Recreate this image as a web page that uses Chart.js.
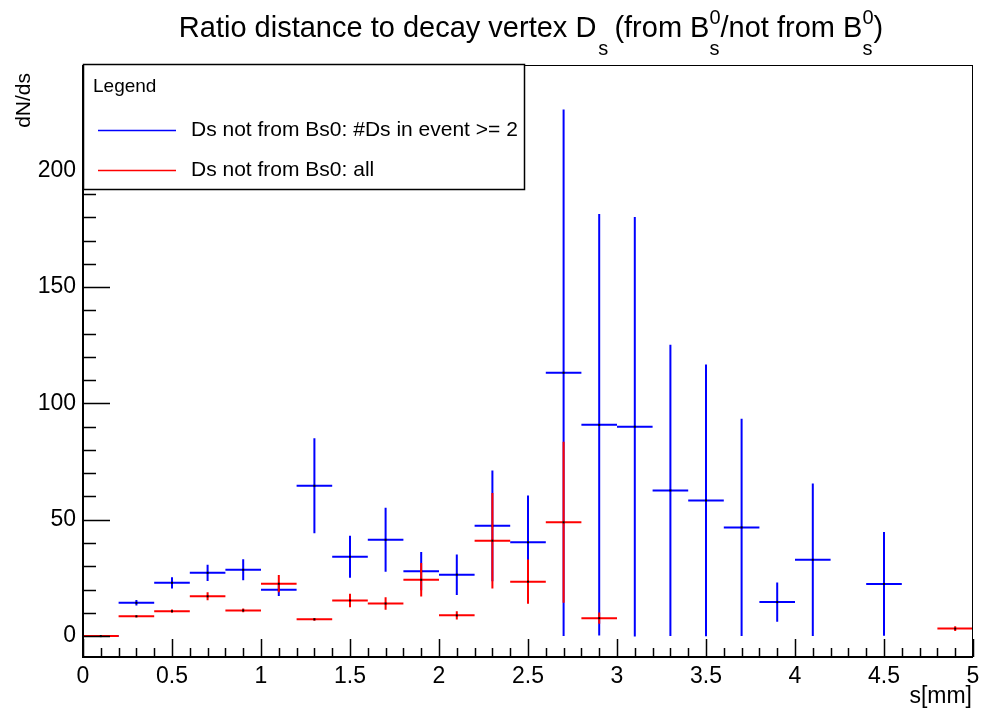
<!DOCTYPE html>
<html>
<head>
<meta charset="utf-8">
<script src="https://cdn.jsdelivr.net/npm/chart.js@4.4.0/dist/chart.umd.min.js"></script>
<style>
html, body { margin: 0; padding: 0; background: #fff; }
#grafica { display: block; }
</style>
</head>
<body>
<canvas id="grafica" width="981" height="713"></canvas>
<script>
// bins de 0.2 mm (centros)
const binCenters = [0.1, 0.3, 0.5, 0.7, 0.9, 1.1, 1.3, 1.5, 1.7, 1.9, 2.1, 2.3, 2.5,
                    2.7, 2.9, 3.1, 3.3, 3.5, 3.7, 3.9, 4.1, 4.3, 4.5, 4.7, 4.9];
const binWidth = 0.2;

// Ds not from Bs0: #Ds in event >= 2  (null = bin vacio)
const blueValues = [0, 14.3, 22.9, 27.2, 28.5, 19.9, 64.6, 34.1, 41.4, 27.9, 26.4, 47.4, 40.3,
                    113.2, 90.8, 90.0, 62.6, 58.3, 46.7, 14.6, 32.8, null, 22.4, null, null];
const blueErrors = [0, 1.2, 2.4, 3.5, 4.5, 2.7, 20.4, 9.0, 13.8, 8.2, 8.7, 23.8, 20.1,
                    113.2, 90.6, 90.2, 62.6, 58.4, 46.7, 8.4, 32.8, 0, 22.3, 0, 0];

// Ds not from Bs0: all
const redValues = [0, 8.5, 10.7, 17.1, 11.0, 22.5, 7.2, 15.3, 14.0, 24.2, 8.9, 41.0, 23.4,
                   48.9, 7.7, null, null, null, null, null, null, null, null, null, 3.2];
const redErrors = [0, 0.5, 0.7, 1.7, 0.8, 3.7, 0.6, 2.9, 2.7, 7.2, 1.8, 20.5, 9.5,
                   34.6, 2.4, 0, 0, 0, 0, 0, 0, 0, 0, 0, 1.0];

const xTickValues = [0, 0.5, 1, 1.5, 2, 2.5, 3, 3.5, 4, 4.5, 5];
const xTickLabels = ['0', '0.5', '1', '1.5', '2', '2.5', '3', '3.5', '4', '4.5', '5'];
const yTickValues = [0, 50, 100, 150, 200];
const yTickLabels = ['0', '50', '100', '150', '200'];

const FUENTE = '"Liberation Sans", Arial, Helvetica, sans-serif';

function construirPuntos(valores, errores) {
    return binCenters.map((x, i) => ({ x: x, y: valores[i], err: errores[i] }))
                     .filter(p => p.y !== null);
}

function textoRico(ctx, partes, xCentro) {
    // medir
    let ancho = 0;
    partes.forEach(p => {
        let w = 0;
        p.trozos.forEach(t => {
            ctx.font = t.size + 'px ' + FUENTE;
            w = Math.max(w, ctx.measureText(t.texto).width);
        });
        p.w = w;
        ancho += w;
    });
    let x = xCentro - ancho / 2;
    ctx.textAlign = 'left';
    ctx.textBaseline = 'alphabetic';
    partes.forEach(p => {
        p.trozos.forEach(t => {
            ctx.font = t.size + 'px ' + FUENTE;
            ctx.fillText(t.texto, x + (t.dx || 0), t.y);
        });
        x += p.w;
    });
}

const estiloRoot = {
    id: 'estiloRoot',
    afterDatasetsDraw(chart) {
        const ctx = chart.ctx;
        const a = chart.chartArea;
        const xs = chart.scales.x;
        const ys = chart.scales.y;

        // barras de error
        ctx.save();
        ctx.beginPath();
        ctx.rect(a.left, a.top, a.right - a.left, a.bottom - a.top);
        ctx.clip();
        chart.data.datasets.forEach(ds => {
            ds.data.forEach(p => {
                const x0 = xs.getPixelForValue(p.x - binWidth / 2);
                const x1 = xs.getPixelForValue(p.x + binWidth / 2);
                const xc = xs.getPixelForValue(p.x);
                const yc = ys.getPixelForValue(p.y);
                ctx.strokeStyle = ds.borderColor;
                ctx.lineWidth = 2;
                ctx.beginPath();
                ctx.moveTo(x0, yc);
                ctx.lineTo(x1, yc);
                if (p.err > 0) {
                    ctx.moveTo(xc, ys.getPixelForValue(p.y - p.err));
                    ctx.lineTo(xc, ys.getPixelForValue(p.y + p.err));
                }
                ctx.stroke();
                ctx.fillStyle = '#000';
                ctx.fillRect(xc - 1, yc - 1, 2, 2);
            });
        });
        ctx.restore();

        // marco y ticks hacia dentro
        ctx.save();
        ctx.strokeStyle = '#000';
        ctx.lineWidth = 1;
        ctx.strokeRect(a.left + 0.5, a.top + 0.5, a.right - a.left - 1, a.bottom - a.top - 1);
        ctx.lineWidth = 2;
        ctx.beginPath();
        ctx.moveTo(a.left, a.top);
        ctx.lineTo(a.left, a.bottom);
        ctx.lineTo(a.right, a.bottom);
        ctx.stroke();
        ctx.lineWidth = 1.5;
        ctx.beginPath();
        for (let i = 0; i <= 50; i++) {
            const v = i * 0.1;
            const px = Math.round(xs.getPixelForValue(v)) + 0.5;
            const largo = (i % 5 === 0) ? 18 : 9;
            ctx.moveTo(px, a.bottom);
            ctx.lineTo(px, a.bottom - largo);
        }
        for (let v = 0; v <= 240; v += 10) {
            const py = Math.round(ys.getPixelForValue(v)) + 0.5;
            const largo = (v % 50 === 0) ? 27 : 13;
            ctx.moveTo(a.left, py);
            ctx.lineTo(a.left + largo, py);
        }
        ctx.stroke();
        ctx.restore();

        // leyenda
        ctx.save();
        const lx0 = a.left, ly0 = 64, lx1 = 525, ly1 = 190;
        ctx.fillStyle = '#fff';
        ctx.fillRect(lx0, ly0, lx1 - lx0, ly1 - ly0);
        ctx.strokeStyle = '#000';
        ctx.lineWidth = 1.5;
        ctx.strokeRect(lx0 + 0.5, ly0 + 0.5, lx1 - lx0 - 1, ly1 - ly0 - 1);
        ctx.fillStyle = '#000';
        ctx.textAlign = 'left';
        ctx.textBaseline = 'middle';
        ctx.font = '19px ' + FUENTE;
        ctx.fillText('Legend', 93, 87);
        ctx.font = '21px ' + FUENTE;
        chart.data.datasets.forEach((ds, i) => {
            const y = 130 + i * 40;
            ctx.strokeStyle = ds.borderColor;
            ctx.lineWidth = 1.5;
            ctx.beginPath();
            ctx.moveTo(98, y + 0.5);
            ctx.lineTo(176, y + 0.5);
            ctx.stroke();
            ctx.fillStyle = '#000';
            ctx.fillText(ds.label, 191, y);
        });
        ctx.restore();

        // titulos
        ctx.save();
        ctx.fillStyle = '#000';
        textoRico(ctx, [
            { trozos: [{ texto: 'Ratio distance to decay vertex D', size: 29, y: 37 }] },
            { trozos: [{ texto: 's', size: 20, y: 55, dx: 2 }] },
            { trozos: [{ texto: ' (from B', size: 29, y: 37 }] },
            { trozos: [{ texto: '0', size: 20, y: 24 }, { texto: 's', size: 20, y: 55 }] },
            { trozos: [{ texto: '/not from B', size: 29, y: 37 }] },
            { trozos: [{ texto: '0', size: 20, y: 24 }, { texto: 's', size: 20, y: 55 }] },
            { trozos: [{ texto: ')', size: 29, y: 37 }] }
        ], 531);

        ctx.font = '23px ' + FUENTE;
        ctx.textAlign = 'right';
        ctx.textBaseline = 'alphabetic';
        ctx.fillText('s[mm]', 972, 703);

        ctx.translate(30, 73);
        ctx.rotate(-Math.PI / 2);
        ctx.textAlign = 'right';
        ctx.font = '21px ' + FUENTE;
        ctx.fillText('dN/ds', 0, 0);
        ctx.restore();
    }
};

new Chart(document.getElementById('grafica'), {
    type: 'scatter',
    data: {
        datasets: [
            { label: 'Ds not from Bs0: #Ds in event >= 2', data: construirPuntos(blueValues, blueErrors),
              borderColor: '#0000ff', backgroundColor: '#0000ff', pointRadius: 0, showLine: false },
            { label: 'Ds not from Bs0: all', data: construirPuntos(redValues, redErrors),
              borderColor: '#ff0000', backgroundColor: '#ff0000', pointRadius: 0, showLine: false }
        ]
    },
    options: {
        responsive: false,
        animation: false,
        layout: { padding: { top: 65, right: 8, left: 0, bottom: 0 } },
        plugins: { legend: { display: false }, tooltip: { enabled: false }, title: { display: false } },
        scales: {
            x: {
                type: 'linear', min: 0, max: 5,
                grid: { display: false }, border: { display: false },
                afterBuildTicks: s => { s.ticks = xTickValues.map(v => ({ value: v })); },
                afterFit: s => { s.height = 56; },
                ticks: {
                    autoSkip: false, maxRotation: 0, padding: -2, color: '#000',
                    font: { family: FUENTE, size: 23 },
                    callback: (v, i) => xTickLabels[i]
                }
            },
            y: {
                type: 'linear', min: -9, max: 245.5,
                grid: { display: false }, border: { display: false },
                afterBuildTicks: s => { s.ticks = yTickValues.map(v => ({ value: v })); },
                afterFit: s => { s.width = 83; },
                ticks: {
                    autoSkip: false, padding: -1, color: '#000',
                    font: { family: FUENTE, size: 23 },
                    callback: (v, i) => yTickLabels[i]
                }
            }
        }
    },
    plugins: [estiloRoot]
});
</script>
</body>
</html>
